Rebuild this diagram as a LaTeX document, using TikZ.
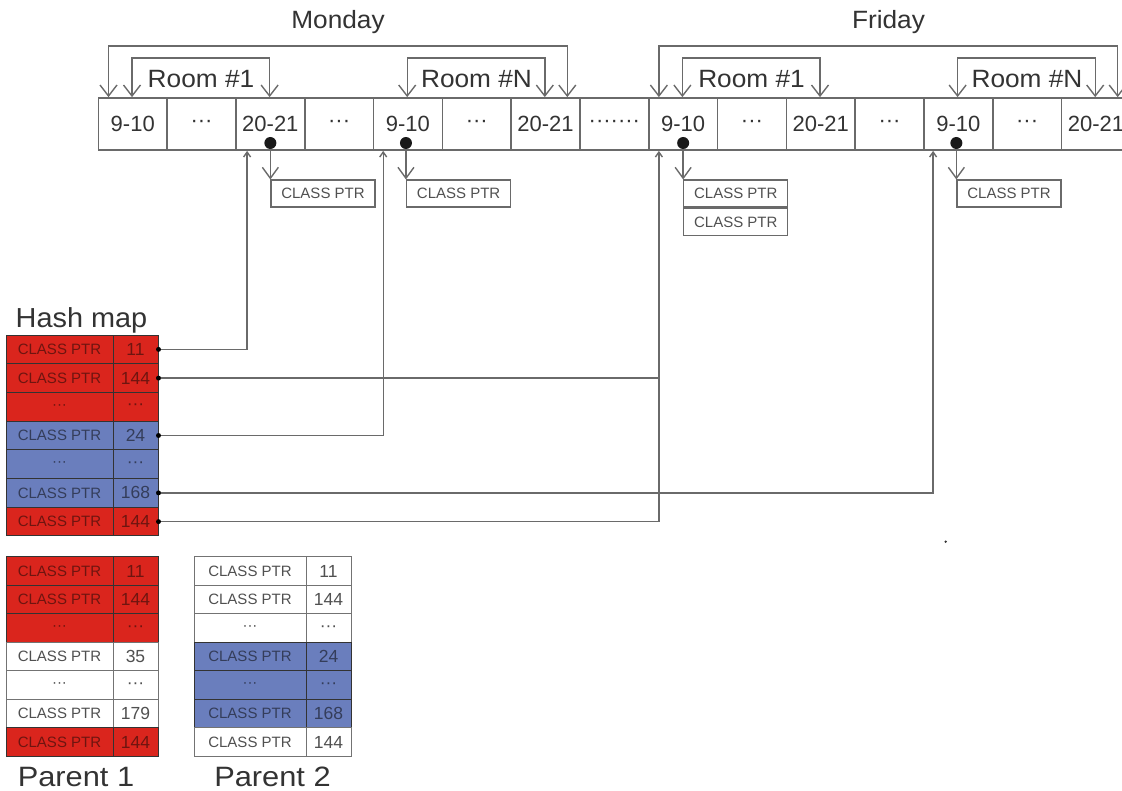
\documentclass[tikz,border=0pt]{standalone}
\usepackage{fontspec}
\setmainfont{Liberation Sans}
\newfontfamily\wideA[FakeStretch=1.05]{Liberation Sans}
\newfontfamily\wideB[FakeStretch=1.1]{Liberation Sans}
\usetikzlibrary{arrows.meta,calc}
\definecolor{hred}{HTML}{DA251D}
\definecolor{hredtxt}{HTML}{6E1510}
\definecolor{hblue}{HTML}{6A7EBD}
\definecolor{hbluetxt}{HTML}{343D5A}
\definecolor{lgray}{HTML}{6A6A6A}
\definecolor{tgray}{HTML}{505050}
\definecolor{tabline}{HTML}{333333}
\begin{document}
\begin{tikzpicture}[x=1pt,y=-1pt,
  cell/.style={draw=lgray, line width=1.7pt, minimum width=68.8pt, minimum height=52pt,
    inner sep=0pt, anchor=west, font=\fontsize{22}{24}\selectfont, text=black!80},
  lbl/.style={font=\wideA\fontsize{25}{28}\selectfont, text=black!80, anchor=base, inner sep=0pt},
  big/.style={font=\wideB\fontsize{28}{30}\selectfont, text=black!80, anchor=base, inner sep=0pt},
  hbig/.style={font=\wideA\fontsize{27.5}{30}\selectfont, text=black!80, anchor=base, inner sep=0pt},
  conn/.style={draw=lgray, line width=1.4pt},
  brk/.style={conn, {Straight Barb[length=11pt,width=17pt]}-{Straight Barb[length=11pt,width=17pt]}},
  darr/.style={conn, -{Straight Barb[length=11pt,width=16pt]}},
  uarr/.style={conn, -{Straight Barb[length=5pt,width=7pt]}},
  ptr/.style={draw=lgray, line width=1.3pt, minimum width=104pt, minimum height=27pt,
    inner sep=0pt, anchor=north west, font=\fontsize{15}{16}\selectfont, text=tgray},
  tl/.style={draw=tabline, line width=1pt, minimum height=28.6pt, inner sep=0pt,
    font=\fontsize{15}{16}\selectfont},
  tn/.style={draw=tabline, line width=1pt, minimum height=28.6pt, inner sep=0pt,
    font=\fontsize{17.5}{19}\selectfont},
  redc/.style={fill=hred, text=hredtxt},
  bluec/.style={fill=hblue, text=hbluetxt},
  whitec/.style={fill=white, text=tgray, draw=black!55},
  hdot/.style={fill=black, circle, inner sep=0pt, minimum size=5pt}
]
\useasboundingbox (0,0) rectangle (1122,791);

% ---- time slot row ----
\foreach \i/\t in {0/9-10,1/···,2/20-21,3/···,4/9-10,5/···,6/20-21,7/·······,
                   8/9-10,9/···,10/20-21,11/···,12/9-10,13/···,14/20-21}
  \node[cell] (c\i) at (97.5+68.8*\i,124) {\t};

% ---- bracket anchors ----
\coordinate (mA) at ([xshift=11pt]c0.north west);
\coordinate (mB) at ([xshift=57pt]c6.north west);
\coordinate (m1a) at ([xshift=34.5pt]c0.north west);
\coordinate (m1b) at ([xshift=34.5pt]c2.north west);
\coordinate (mNa) at ([xshift=34.5pt]c4.north west);
\coordinate (mNb) at ([xshift=34.5pt]c6.north west);
\coordinate (fA) at ([xshift=11pt]c8.north west);
\coordinate (fB) at ([xshift=57pt]c14.north west);
\coordinate (f1a) at ([xshift=34.5pt]c8.north west);
\coordinate (f1b) at ([xshift=34.5pt]c10.north west);
\coordinate (fNa) at ([xshift=34.5pt]c12.north west);
\coordinate (fNb) at ([xshift=34.5pt]c14.north west);

\draw[brk] (mA) -- (mA |- 0,46) -- (mB |- 0,46) -- (mB);
\draw[brk] (m1a) -- (m1a |- 0,58) -- (m1b |- 0,58) -- (m1b);
\draw[brk] (mNa) -- (mNa |- 0,58) -- (mNb |- 0,58) -- (mNb);
\draw[brk] (fA) -- (fA |- 0,46) -- (fB |- 0,46) -- (fB);
\draw[brk] (f1a) -- (f1a |- 0,58) -- (f1b |- 0,58) -- (f1b);
\draw[brk] (fNa) -- (fNa |- 0,58) -- (fNb |- 0,58) -- (fNb);

\node[lbl] (monday) at (338,29) {Monday};
\node[lbl] (friday) at (888.5,29) {Friday};
\node[lbl] (r1m) at (201,88) {Room \#1};
\node[lbl] (rNm) at (476.5,88) {Room \#N};
\node[lbl] (r1f) at (751.5,88) {Room \#1};
\node[lbl] (rNf) at (1027,88) {Room \#N};

% ---- class pointers under slots ----
\coordinate (d1) at (c2.center |- 0,143);
\coordinate (d2) at ([xshift=-2pt]c4.center |- 0,143);
\coordinate (d3) at (c8.center |- 0,143);
\coordinate (d4) at ([xshift=-2pt]c12.center |- 0,143);

\node[ptr] (p1) at (d1 |- 0,179.5) {CLASS PTR};
\node[ptr] (p2) at (d2 |- 0,179.5) {CLASS PTR};
\node[ptr] (p3) at (d3 |- 0,179.5) {CLASS PTR};
\node[ptr] (p3b) at (p3.south west) {CLASS PTR};
\node[ptr] (p4) at (d4 |- 0,179.5) {CLASS PTR};

\draw[darr] (d1) -- (p1.north west);
\draw[darr] (d2) -- (p2.north west);
\draw[darr] (d3) -- (p3.north west);
\draw[darr] (d4) -- (p4.north west);
\foreach \d in {d1,d2,d3,d4} \fill[black!90] (\d) circle[radius=6pt];

% ---- hash map ----
\node[hbig] (hash) at (81.5,328) {Hash map};
\foreach \r/\v/\s in {1/11/redc,2/144/redc,3/···/redc,4/24/bluec,5/···/bluec,6/168/bluec,7/144/redc}{
  \node[tl,\s,minimum width=107pt] (hl\r) at (59.5,320.7+28.7*\r) {\ifnum\r=3 ···\else\ifnum\r=5 ···\else CLASS PTR\fi\fi};
  \node[tn,\s,minimum width=45pt] (h\r) at (135.5,320.7+28.7*\r) {\v};
}
\foreach \r in {1,2,4,6,7} \node[hdot] (hd\r) at (h\r.east) {};

\coordinate (u1) at ([xshift=12pt]c2.south west);
\coordinate (u2) at ([xshift=10.5pt]c4.south west);
\coordinate (u3) at ([xshift=11pt]c8.south west);
\coordinate (u4) at ([xshift=10pt]c12.south west);

\draw[uarr] (hd1) -| (u1);
\draw[uarr] (hd4) -| (u2);
\draw[uarr] (hd7) -| (u3);
\draw[conn] (hd2) -- (hd2 -| u3);
\draw[uarr] (hd6) -| (u4);

\fill[black!80] (945.7,541.7) circle[radius=1.3pt];

% ---- parent 1 ----
\foreach \r/\v/\t/\s in {1/11/CLASS PTR/redc,2/144/CLASS PTR/redc,3/···/···/redc,
   4/35/CLASS PTR/whitec,5/···/···/whitec,6/179/CLASS PTR/whitec,7/144/CLASS PTR/redc}{
  \node[tl,\s,minimum width=107pt] (al\r) at (59.5,542.75+28.5*\r) {\t};
  \node[tn,\s,minimum width=45pt] (a\r) at (135.5,542.75+28.5*\r) {\v};
}
% ---- parent 2 ----
\foreach \r/\v/\t/\s in {1/11/CLASS PTR/whitec,2/144/CLASS PTR/whitec,3/···/···/whitec,
   4/24/CLASS PTR/bluec,5/···/···/bluec,6/168/CLASS PTR/bluec,7/144/CLASS PTR/whitec}{
  \node[tl,\s,minimum width=112pt] (bl\r) at (250,542.75+28.5*\r) {\t};
  \node[tn,\s,minimum width=45pt] (b\r) at (328.5,542.75+28.5*\r) {\v};
}
\node[big] (par1) at (76,786) {Parent 1};
\node[big] (par2) at (272.5,786) {Parent 2};
\end{tikzpicture}
\end{document}
